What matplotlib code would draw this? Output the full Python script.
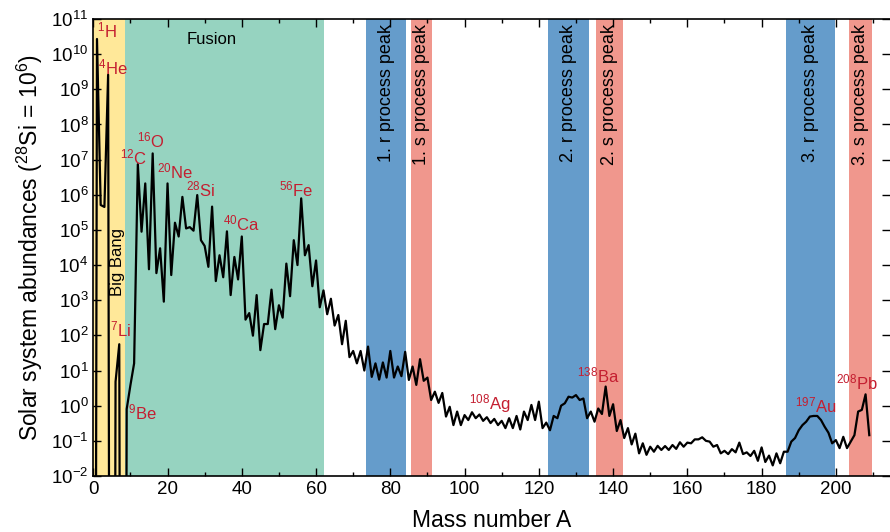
import numpy as np
import matplotlib
matplotlib.use('Agg')
import matplotlib.pyplot as plt
from matplotlib.ticker import MultipleLocator, LogLocator, NullLocator

plt.rcParams['font.family'] = ['Liberation Sans', 'DejaVu Sans']
plt.rcParams['mathtext.fontset'] = 'custom'
plt.rcParams['mathtext.rm'] = 'Liberation Sans'
plt.rcParams['mathtext.it'] = 'Liberation Sans:italic'

# abundance per mass number A = 0..209 (28Si = 1e6), zeros as tiny values
abund = [
    1e-40, 2.7e10, 5.1e5, 4.5e5, 2.6e9, 1e-40, 4.8, 56, 1e-40, 0.8,
    3.8, 16, 7.4e6, 8.9e4, 2.1e6, 7.6e3, 1.5e7, 5.9e3, 3.0e4, 910,
    2.1e6, 5.2e3, 1.6e5, 6.5e4, 8.7e5, 1.1e5, 1.2e5, 9.5e4, 9.8e5, 5.1e4,
    3.5e4, 8.9e3, 4.6e5, 3.5e3, 1.9e4, 4.5e3, 9.1e4, 1.4e3, 1.7e4, 3.9e3,
    6.5e4, 280, 430, 98, 1.4e3, 38, 210, 210, 2.0e3, 150,
    720, 320, 1.1e4, 1.3e3, 5.1e4, 1.0e4, 7.9e5, 1.9e4, 3.7e4, 2.5e3,
    1.35e4, 630, 1.9e3, 400, 1.1e3, 190, 380, 56, 260, 24,
    36, 16, 36, 10, 48, 6.6, 16, 5.5, 17, 6.3,
    36, 6.3, 13, 6.9, 34, 5.4, 13, 3.9, 21, 5.1,
    6.3, 1.45, 2.5, 1.2, 2.3, 0.49, 0.93, 0.28, 0.68, 0.28,
    0.54, 0.39, 0.65, 0.44, 0.56, 0.37, 0.47, 0.32, 0.42, 0.28,
    0.37, 0.23, 0.44, 0.23, 0.51, 0.21, 0.68, 0.39, 1.05, 0.39,
    1.3, 0.23, 0.33, 0.20, 0.51, 0.44, 1.0, 1.17, 1.8, 1.7,
    2.0, 1.45, 1.6, 0.44, 0.68, 0.35, 0.83, 0.58, 3.5, 0.51,
    1.1, 0.19, 0.39, 0.12, 0.23, 0.079, 0.16, 0.044, 0.085, 0.040,
    0.068, 0.049, 0.072, 0.055, 0.071, 0.055, 0.076, 0.059, 0.091, 0.068,
    0.089, 0.085, 0.11, 0.11, 0.126, 0.10, 0.095, 0.068, 0.076, 0.044,
    0.052, 0.042, 0.058, 0.047, 0.089, 0.042, 0.047, 0.037, 0.052, 0.027,
    0.065, 0.025, 0.038, 0.020, 0.044, 0.023, 0.049, 0.049, 0.095, 0.12,
    0.20, 0.28, 0.35, 0.49, 0.51, 0.51, 0.39, 0.25, 0.17, 0.085,
    0.105, 0.062, 0.13, 0.062, 0.095, 0.145, 0.68, 0.76, 2.1, 0.145,
]
mass = np.arange(len(abund))

# shaded regions (start, end, colour)
regions = [
    (0, 8.6, '#ffe899'),
    (8.6, 62.2, '#96d3c0'),
    (73.5, 84.3, '#659ccb'),
    (85.6, 91.3, '#f0978d'),
    (122.6, 133.5, '#659ccb'),
    (135.5, 142.7, '#f0978d'),
    (186.6, 199.7, '#659ccb'),
    (203.6, 209.8, '#f0978d'),
]
peak_labels = ['1. r process peak', '1. s process peak',
               '2. r process peak', '2. s process peak',
               '3. r process peak', '3. s process peak']

# element labels: (mass, symbol, x, log10 y)
elements = [
    ('1', 'H', 1.0, 10.66), ('4', 'He', 1.35, 9.63), ('7', 'Li', 4.6, 2.18),
    ('9', 'Be', 9.4, -0.18), ('12', 'C', 7.3, 7.05), ('16', 'O', 11.8, 7.55),
    ('20', 'Ne', 17.2, 6.65), ('28', 'Si', 25.0, 6.16), ('40', 'Ca', 35.0, 5.17),
    ('56', 'Fe', 50.1, 6.16), ('108', 'Ag', 101.3, 0.07), ('138', 'Ba', 130.4, 0.87),
    ('197', 'Au', 189.0, 0.02), ('208', 'Pb', 200.1, 0.67),
]

fig = plt.figure(figsize=(8.9, 5.32), dpi=100)
ax = fig.add_axes([0.1048, 0.1053, 0.8957, 0.859])

for (a, b, c) in regions:
    ax.axvspan(a, b, color=c, lw=0, zorder=0)

for (a, b, c), lab in zip(regions[2:], peak_labels):
    ax.text((a + b) / 2, 10**10.85, lab, rotation=90, ha='center', va='top',
            fontsize=13, color='black', zorder=3)

ax.text(32, 10**10.43, 'Fusion', ha='center', va='center', fontsize=12)
ax.text(6.4, 10**4.1, 'Big Bang', rotation=90, ha='center', va='center', fontsize=12)

ax.plot(mass, abund, color='black', lw=1.6, zorder=2)

for m, sym, x, ly in elements:
    ax.text(x, 10**ly, r'$^{%s}$%s' % (m, sym), color='#c41e30', fontsize=12,
            ha='left', va='center', zorder=3)

ax.set_yscale('log')
ax.set_xlim(0, 214.7)
ax.set_ylim(1e-2, 1e11)
ax.xaxis.set_major_locator(MultipleLocator(20))
ax.xaxis.set_minor_locator(MultipleLocator(10))
ax.yaxis.set_major_locator(LogLocator(base=10, numticks=20))
ax.yaxis.set_minor_locator(NullLocator())
ax.tick_params(which='both', direction='in', top=True, right=True, labelsize=13.5, width=1)
ax.tick_params(which='major', length=6)
ax.tick_params(which='minor', length=3)
for s in ax.spines.values():
    s.set_linewidth(1.2)
ax.spines['right'].set_visible(False)

ax.set_xlabel('Mass number A', fontsize=16.5, labelpad=8)
ax.set_ylabel(r'Solar system abundances ($^{28}$Si$\,=\,$10$^{6}$)', fontsize=16.5)

fig.savefig('out.png', dpi=100)
